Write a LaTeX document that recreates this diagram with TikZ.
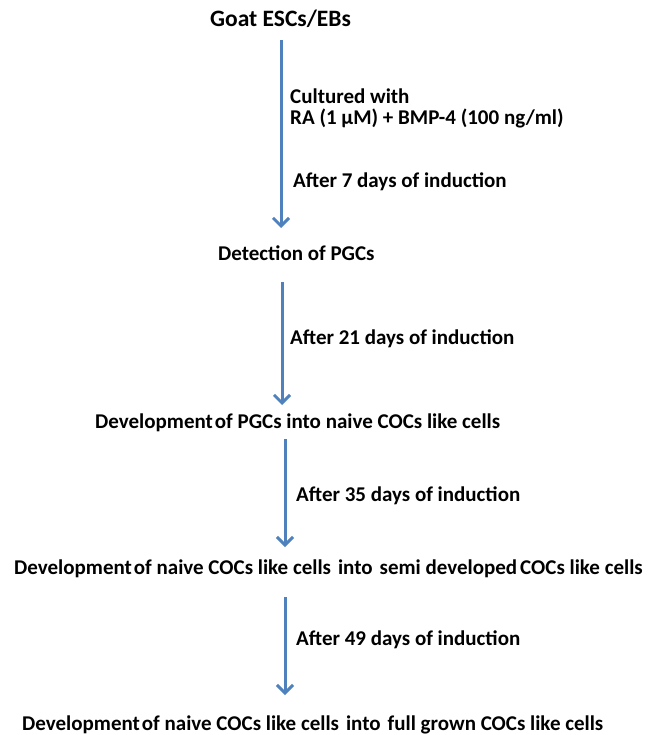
\documentclass[tikz,border=0pt]{standalone}
\usepackage{fontspec}
\setmainfont{Carlito}
\usepackage{tikz}
\usetikzlibrary{arrows.meta,positioning}
\definecolor{flowblue}{RGB}{79,129,189}
\newcommand{\gap}{\hspace{7pt}}

\begin{document}
\begin{tikzpicture}[
      x=1pt, y=-1pt,
      stage/.style={anchor=base west, inner sep=0pt, font=\fontsize{21}{23}\selectfont\bfseries},
      title/.style={anchor=base west, inner sep=0pt, font=\fontsize{23.5}{26}\selectfont\bfseries},
      lbl/.style={anchor=base west, inner sep=0pt, align=left, font=\fontsize{21}{23}\selectfont\bfseries},
      arrow/.style={-{Straight Barb[length=8pt, width=16pt]}, line width=3pt, color=flowblue},
    ]
    \useasboundingbox (0,0) rectangle (650,735);

    % stages
    \node[title] (esc) at (210,27) {Goat ESCs/EBs};
    \node[stage] (pgc) at (218,260) {Detection of PGCs};
    \node[stage] (naive) at (95,428) {Development\hspace{2pt}of PGCs into naive COCs like cells};
    \node[stage] (semi) at (14,574) {Development\hspace{2pt}of naive COCs like cells\gap into\gap semi developed\hspace{3pt}COCs like cells};
    \node[stage] (full) at (22,730) {Development\hspace{2pt}of naive COCs like cells\gap into\gap full grown COCs like cells};

    % arrow ends
    \coordinate (a1s) at (281,40);
    \coordinate (a1e) at (281,228);
    \coordinate (a2s) at (282,282);
    \coordinate (a2e) at (282,405);
    \coordinate (a3s) at (285,439);
    \coordinate (a3e) at (285,547);
    \coordinate (a4s) at (285,597);
    \coordinate (a4e) at (285,695);

    \draw[arrow] (a1s) -- (a1e);
    \draw[arrow] (a2s) -- (a2e);
    \draw[arrow] (a3s) -- (a3e);
    \draw[arrow] (a4s) -- (a4e);

    % labels beside arrows
    \node[lbl] (cult) at (290,104) {Cultured with};
    \node[lbl] (dose) at (290,125) {RA (1 µM) + BMP-4 (100 ng/ml)};
    \node[lbl] (d7) at (293,188) {After 7 days of induction};
    \node[lbl] (d21) at (290,344) {After 21 days of induction};
    \node[lbl] (d35) at (296,501) {After 35 days of induction};
    \node[lbl] (d49) at (296,645) {After 49 days of induction};
  \end{tikzpicture}
\end{document}
